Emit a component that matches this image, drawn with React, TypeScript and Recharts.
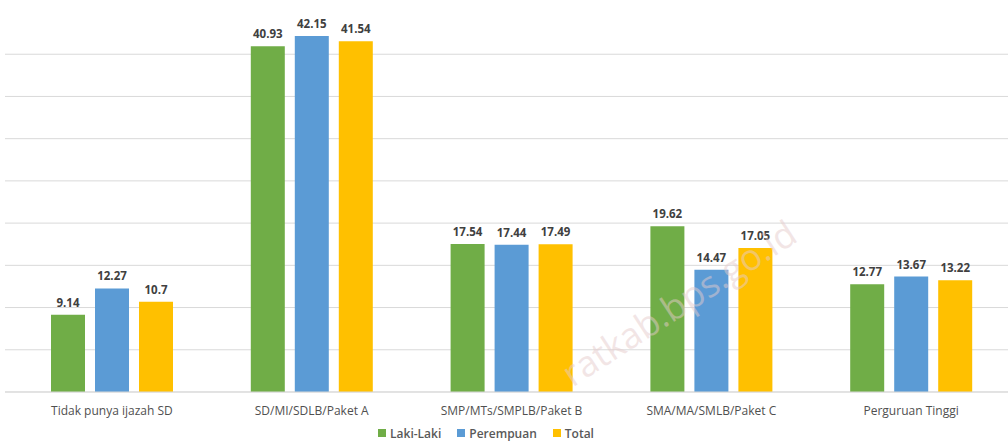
import { BarChart, Bar, XAxis, YAxis, CartesianGrid, Legend, LabelList } from 'recharts'

const categories = [
  'Tidak punya ijazah SD',
  'SD/MI/SDLB/Paket A',
  'SMP/MTs/SMPLB/Paket B',
  'SMA/MA/SMLB/Paket C',
  'Perguruan Tinggi',
]
const lakiLaki = [9.14, 40.93, 17.54, 19.62, 12.77]
const perempuan = [12.27, 42.15, 17.44, 14.47, 13.67]
const total = [10.7, 41.54, 17.49, 17.05, 13.22]
const yTicks = [0, 5, 10, 15, 20, 25, 30, 35, 40]

const series = [
  { key: 'laki', name: 'Laki-Laki', color: '#70AD47' },
  { key: 'perempuan', name: 'Perempuan', color: '#5B9BD5' },
  { key: 'total', name: 'Total', color: '#FFC000' },
]

const data = categories.map((name, i) => ({
  name,
  laki: lakiLaki[i],
  perempuan: perempuan[i],
  total: total[i],
}))

const font = '"Open Sans", "Noto Sans", sans-serif'

function LegendBox() {
  return (
    <div style={{ display: 'flex', justifyContent: 'center', height: 16, paddingTop: 6, paddingRight: 44, alignItems: 'center', fontFamily: font, fontSize: 12, fontWeight: 600, color: '#595959' }}>
      {series.map((s) => (
        <span key={s.key} style={{ display: 'inline-flex', alignItems: 'center', margin: '0 8px' }}>
          <span style={{ width: 8, height: 8, background: s.color, marginRight: 4 }} />
          {s.name}
        </span>
      ))}
    </div>
  )
}

export default function App() {
  return (
    <div style={{ position: 'absolute', left: 0, top: 0, width: 1008, height: 441, overflow: 'hidden', background: '#fff' }}>
      <BarChart
        width={1020}
        height={441}
        data={data}
        margin={{ top: 12, right: 9, left: 5, bottom: 0 }}
        barSize={34}
        barGap={10}
      >
        <CartesianGrid vertical={false} stroke="#d9d9d9" horizontalValues={yTicks} />
        <XAxis
          dataKey="name"
          padding={{ left: 7, right: 0 }}
          height={27}
          tickLine={false}
          stroke="#d9d9d9"
          tick={{ fill: '#505050', fontSize: 12, fontFamily: font }}
          tickMargin={8}
          interval={0}
        />
        <YAxis domain={[0, 45]} ticks={yTicks} hide />
        <Legend content={<LegendBox />} verticalAlign="bottom" height={22} />
        {series.map((s) => (
          <Bar key={s.key} dataKey={s.key} name={s.name} fill={s.color} isAnimationActive={false}>
            <LabelList
              dataKey={s.key}
              position="top"
              offset={8}
              fill="#404040"
              fontSize={11.5}
              fontWeight="bold"
              fontFamily={font}
            />
          </Bar>
        ))}
      </BarChart>
      {/* watermark sits over the bars */}
      <svg width={1008} height={441} style={{ position: 'absolute', left: 0, top: 0, pointerEvents: 'none' }}>
        <text
          x={686}
          y={314}
          textAnchor="middle"
          transform="rotate(-33 686 314)"
          fontFamily={font}
          fontSize={36}
          fill="#e6cccc"
          fillOpacity={0.5}
        >
          ratkab.bps.go.id
        </text>
      </svg>
    </div>
  )
}
